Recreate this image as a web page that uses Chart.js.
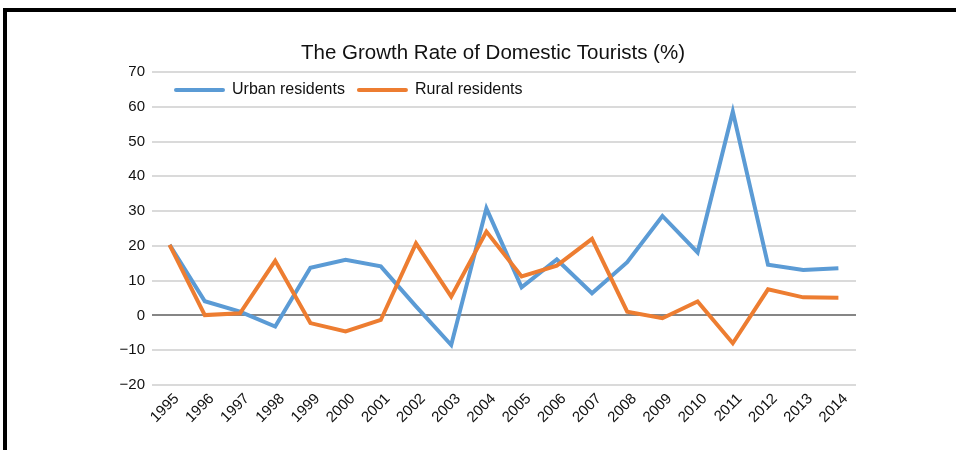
<!DOCTYPE html>
<html>
<head>
<meta charset="utf-8">
<script src="https://cdn.jsdelivr.net/npm/chart.js@4/dist/chart.umd.min.js"></script>
<style>
  body { margin: 0; background: #fff; }
  #wrap { position: relative; width: 956px; height: 450px; overflow: hidden; }
  #frame {
    position: absolute; left: 3px; top: 8px; width: 1000px; height: 500px;
    border-top: 4px solid #000; border-left: 4px solid #000; pointer-events: none;
  }
  canvas { position: absolute; left: 0; top: 0; }
</style>
</head>
<body>
<div id="wrap">
  <canvas id="chart" width="956" height="450"></canvas>
  <div id="frame"></div>
</div>
<script>
// values
const years = ["1995", "1996", "1997", "1998", "1999", "2000", "2001", "2002", "2003", "2004",
  "2005", "2006", "2007", "2008", "2009", "2010", "2011", "2012", "2013", "2014"];
const urbanResidents = [20.3, 4.1, 1.1, -3.2, 13.7, 16, 14.1, 2.6, -8.5, 30.8,
  8.1, 16.1, 6.4, 15.3, 28.6, 18.1, 58.6, 14.6, 13.1, 13.6];
const ruralResidents = [20.3, 0.1, 0.6, 15.7, -2.2, -4.6, -1.3, 20.7, 5.4, 24.1,
  11.2, 14.3, 22, 1.1, -0.8, 4, -8, 7.5, 5.2, 5.1];
const yTicks = { min: -20, max: 70, step: 10 };
const chartTitle = "The Growth Rate of Domestic Tourists (%)";

const FONT = "'Liberation Sans', Arial, Helvetica, sans-serif";

// title + legend drawn by hand so they sit where the original has them
const headerAndLegend = {
  id: "headerAndLegend",
  afterDraw(chart) {
    const ctx = chart.ctx;
    ctx.save();
    ctx.fillStyle = "#111";
    ctx.font = "20.5px " + FONT;
    ctx.textAlign = "center";
    ctx.textBaseline = "middle";
    ctx.fillText(chartTitle, 493, 53);

    ctx.textAlign = "left";
    ctx.font = "16px " + FONT;
    const y = 90;
    let x = 176;
    chart.data.datasets.forEach((ds) => {
      ctx.strokeStyle = ds.borderColor;
      ctx.lineWidth = 4;
      ctx.lineCap = "round";
      ctx.beginPath();
      ctx.moveTo(x, y);
      ctx.lineTo(x + 47, y);
      ctx.stroke();
      ctx.fillStyle = "#111";
      ctx.fillText(ds.label, x + 56, y);
      x += 56 + ctx.measureText(ds.label).width + 14;
    });
    ctx.restore();
  },
};

new Chart(document.getElementById("chart"), {
  type: "line",
  data: {
    labels: years,
    datasets: [
      {
        label: "Urban residents",
        data: urbanResidents,
        borderColor: "#5b9bd5",
        borderWidth: 4,
        pointRadius: 0,
        tension: 0,
        order: 1,
      },
      {
        label: "Rural residents",
        data: ruralResidents,
        borderColor: "#ed7d31",
        borderWidth: 4,
        pointRadius: 0,
        tension: 0,
        order: 0,
      },
    ],
  },
  options: {
    responsive: false,
    animation: false,
    events: [],
    layout: { padding: { top: 72, right: 100, bottom: 0, left: 0 } },
    plugins: {
      legend: { display: false },
      tooltip: { enabled: false },
      title: { display: false },
    },
    scales: {
      x: {
        offset: true,
        grid: { display: false, drawTicks: false },
        border: { display: false },
        ticks: {
          color: "#111",
          font: { family: FONT, size: 15 },
          minRotation: 45,
          maxRotation: 45,
          autoSkip: false,
          padding: 5,
          labelOffset: 7,
        },
        afterFit(scale) { scale.height = 65; },
      },
      y: {
        min: yTicks.min,
        max: yTicks.max,
        grid: {
          drawTicks: false,
          lineWidth: 2,
          color: (c) => (c.tick && c.tick.value === 0 ? "#868686" : "#dadada"),
        },
        border: { display: false },
        ticks: {
          stepSize: yTicks.step,
          color: "#111",
          font: { family: FONT, size: 15 },
          padding: 7,
          callback: (v) => String(v).replace("-", "\u2212"),
        },
        afterFit(scale) { scale.width = 152; },
      },
    },
  },
  plugins: [headerAndLegend],
});
</script>
</body>
</html>
